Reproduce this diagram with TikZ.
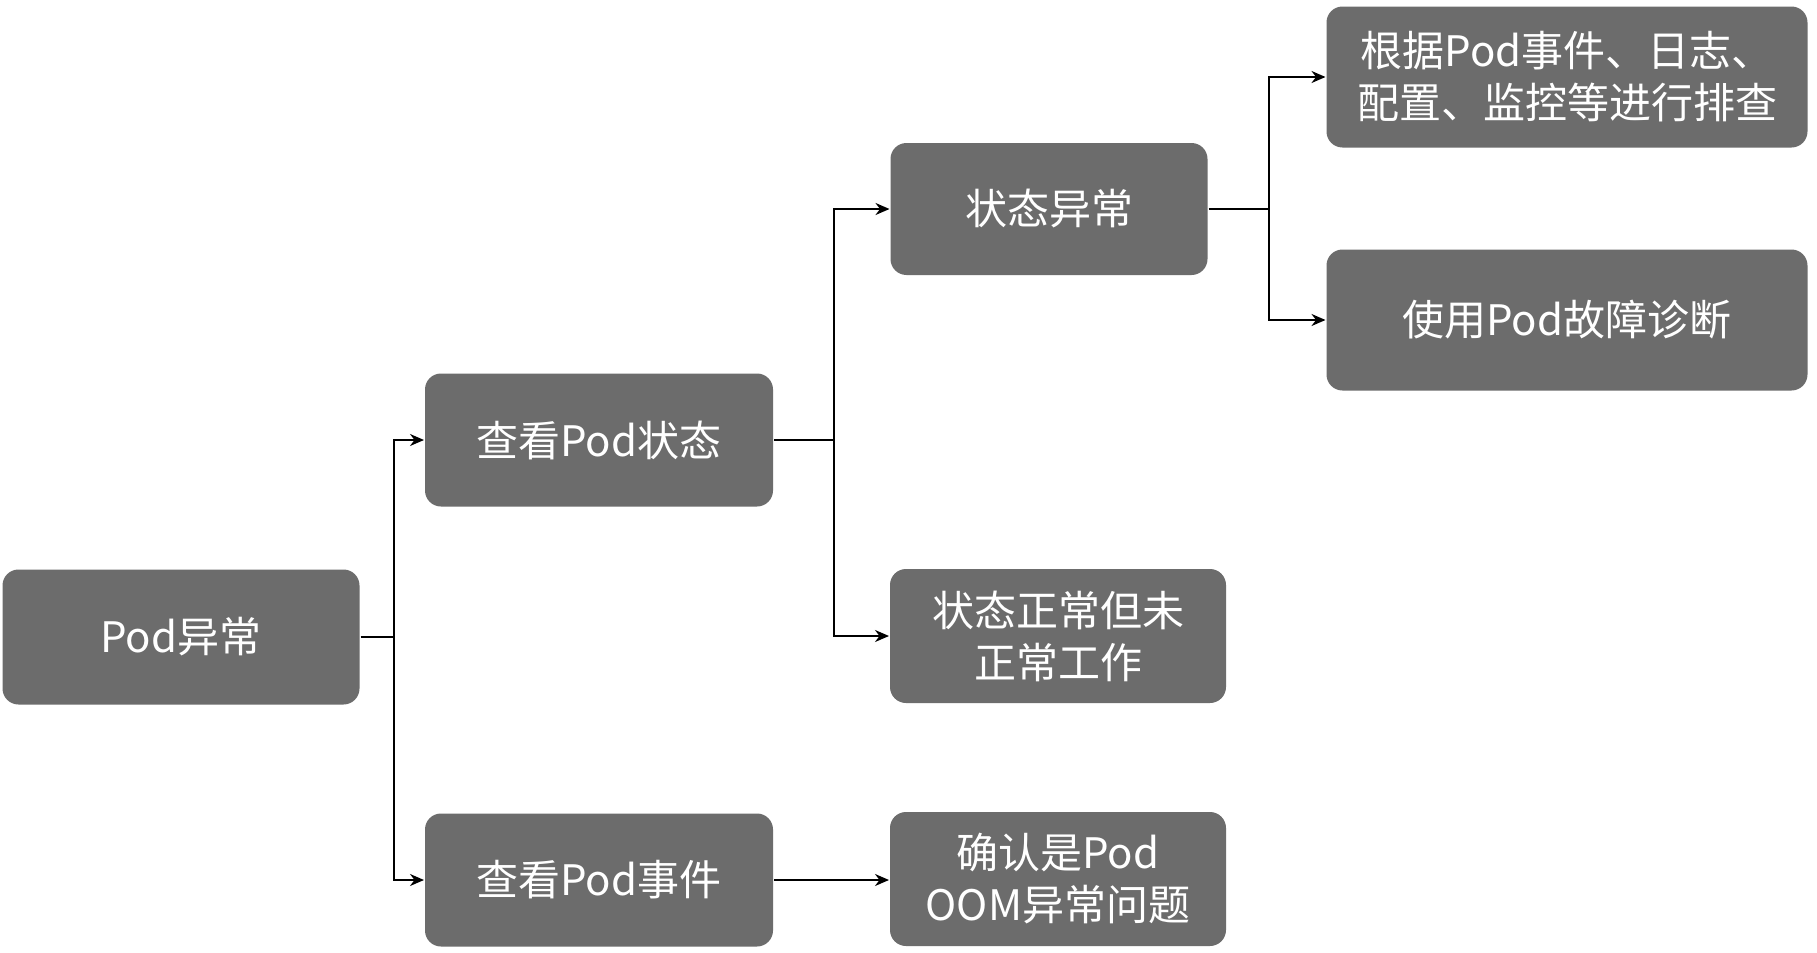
\documentclass[tikz,border=0pt]{standalone}
\usepackage{fontspec}
\setmainfont{Noto Sans CJK SC}
\usetikzlibrary{arrows.meta}

\definecolor{boxgray}{RGB}{108,108,108}
\tikzset{every picture/.style={line width=1pt}}
\tikzset{
  box/.style={fill=boxgray, rounded corners=8pt, text=white, align=center,
    inner sep=0pt, font=\fontsize{21}{26}\selectfont},
  link/.style={-{Stealth[length=7pt,width=6pt]}},
}

\begin{document}
\begin{tikzpicture}[x=0.5pt,y=0.5pt,yscale=-1,xscale=1]
\useasboundingbox (0,0) rectangle (1817,953);
\fill[white] (0,0) rectangle (1817,953);

% Boxes
\node [box, minimum width=178.5pt, minimum height=67.5pt] (pod) at (181,637) {Pod异常};
\node [box, minimum width=174pt, minimum height=66.5pt] (podstate) at (599,440) {查看Pod状态};
\node [box, minimum width=174pt, minimum height=66.5pt] (podevent) at (599,880) {查看Pod事件};
\node [box, minimum width=158.5pt, minimum height=66pt] (stbad) at (1049,209) {状态异常};
\node [box, minimum width=168pt, minimum height=67pt] (stok) at (1058,636) {状态正常但未\\正常工作};
\node [box, minimum width=168pt, minimum height=67pt] (oom) at (1058,879) {确认是Pod\\OOM异常问题};
\node [box, minimum width=240.5pt, minimum height=70.5pt] (check) at (1567,77) {根据Pod事件、日志、\\配置、监控等进行排查};
\node [box, minimum width=240.5pt, minimum height=70.5pt] (diag) at (1567,320) {使用Pod故障诊断};

% Junctions
\coordinate (j1) at (394,637);
\coordinate (j2) at (834,440);
\coordinate (j3) at (1269,209);

% Connectors
\draw (pod.east) -- (j1);
\draw [link] (j1) |- (podstate.west);
\draw [link] (j1) |- (podevent.west);
\draw (podstate.east) -- (j2);
\draw [link] (j2) |- (stbad.west);
\draw [link] (j2) |- (stok.west);
\draw [link] (podevent.east) -- (podevent.east -| oom.west);
\draw (stbad.east) -- (j3);
\draw [link] (j3) |- (check.west);
\draw [link] (j3) |- (diag.west);

\end{tikzpicture}
\end{document}
